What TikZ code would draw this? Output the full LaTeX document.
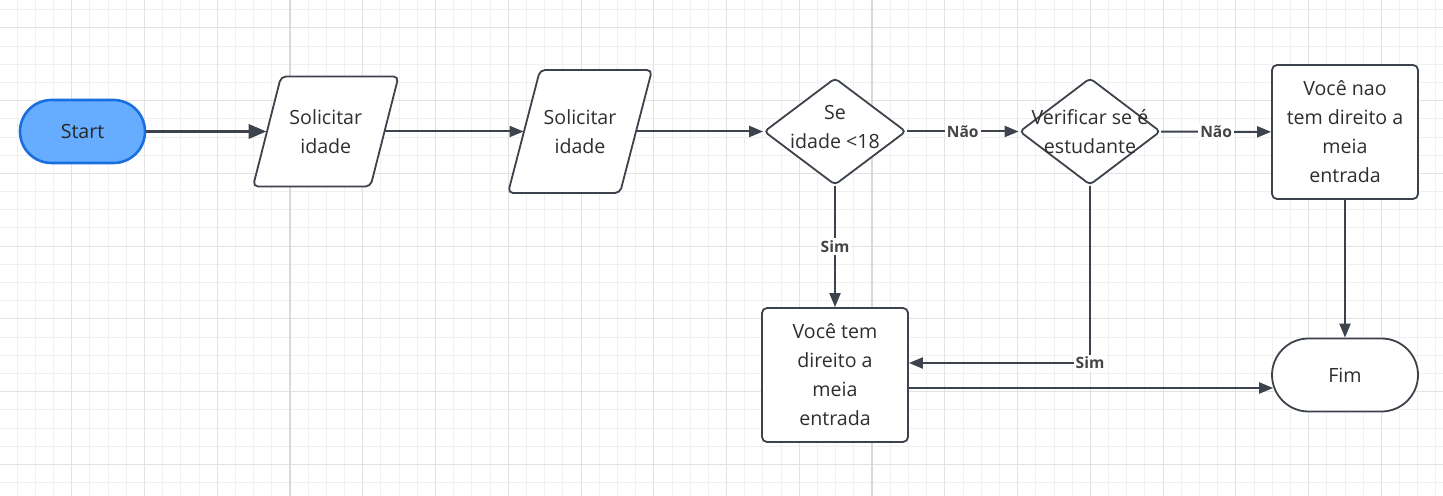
\documentclass[tikz,border=0pt]{standalone}
\usepackage{fontspec}
\setmainfont{Open Sans}
\usetikzlibrary{shapes.geometric,arrows.meta,calc}
\definecolor{edge}{HTML}{3D434C}
\definecolor{txt}{HTML}{2E2E2E}
\definecolor{lbltxt}{HTML}{454545}
\definecolor{startfill}{HTML}{66ADFF}
\definecolor{startline}{HTML}{1A6FE0}
\definecolor{gminor}{HTML}{F0F0F0}
\definecolor{gmed}{HTML}{E2E2E2}
\definecolor{gmaj}{HTML}{D9D9D9}
\begin{document}
\begin{tikzpicture}[x=0.5pt,y=-0.5pt,
  txtnode/.style={text=txt, font=\fontsize{9.8}{14.5}\selectfont, align=center, inner sep=0pt},
  outline/.style={draw=edge, line width=0.9pt, fill=white},
  box/.style={outline, txtnode, rounded corners=2.5pt, minimum width=73pt, minimum height=67pt},
  startnode/.style={txtnode, draw=startline, fill=startfill, line width=1.3pt, rounded corners=15.75pt, minimum width=62.5pt, minimum height=31.5pt},
  endnode/.style={outline, txtnode, rounded corners=18.25pt, minimum width=73pt, minimum height=36.5pt},
  diam/.style={outline, diamond, rounded corners=2pt, inner sep=0pt},
  iotext/.style={txtnode},
  conn/.style={draw=edge, line width=1pt, -{Triangle[length=7pt,width=5.5pt]}},
  thickconn/.style={draw=edge, line width=1.7pt, -{Triangle[length=9pt,width=7pt]}},
  lbl/.style={fill=white, text=lbltxt, font=\fontsize{7.8}{9}\selectfont\bfseries, inner sep=1pt}
]
\useasboundingbox (0,0) rectangle (1443,496);
\fill[white] (0,0) rectangle (1443,496);
% grid
\begin{scope}
\clip (0,0) rectangle (1443,496);
\foreach \k in {-16,...,63} {\pgfmathsetmacro\xx{290+18.19*\k}\draw[gminor,line width=0.5pt] (\xx,0) -- (\xx,496);}
\foreach \k in {-1,...,25} {\pgfmathsetmacro\yy{27.9+18.19*\k}\draw[gminor,line width=0.5pt] (0,\yy) -- (1443,\yy);}
\foreach \k in {-4,...,15} {\pgfmathsetmacro\xx{290+72.76*\k}\draw[gmed,line width=0.55pt] (\xx,0) -- (\xx,496);}
\foreach \k in {0,...,6} {\pgfmathsetmacro\yy{27.9+72.76*\k}\draw[gmed,line width=0.55pt] (0,\yy) -- (1443,\yy);}
\foreach \xx in {290,872} {\draw[gmaj,line width=1pt] (\xx,0) -- (\xx,496);}
\end{scope}

% shapes
\node[startnode, text=black!85] (start) at (82.5,131.5) {Start};

\draw[outline, rounded corners=2.5pt] (281,76.5) -- (398.5,76.5) -- (370.5,186.5) -- (253,186.5) -- cycle;
\node[iotext, minimum width=58.75pt, minimum height=55pt] (p1) at (325.75,131.5) {Solicitar\\idade};

\draw[outline, rounded corners=2.5pt] (540,70) -- (652,70) -- (620,193) -- (508,193) -- cycle;
\node[iotext, minimum width=56pt, minimum height=61.5pt] (p2) at (580,131.5) {Solicitar\\idade};

\node[diam, minimum width=71pt, minimum height=53.5pt] (d1) at (835,131.5) {};
\node[txtnode] (d1t) at (835,127) {Se\\idade <18};

\node[diam, minimum width=70.5pt, minimum height=53.5pt] (d2) at (1090,131.5) {};
\node[txtnode] (d2t) at (1090,131.5) {Verificar se é\\estudante};

\node[box] (vn) at (1345,132) {Você nao\\tem direito a\\meia\\entrada};
\node[box] (vt) at (835,375) {Você tem\\direito a\\meia\\entrada};
\node[endnode] (fim) at (1345,375) {Fim};

% connectors
\draw[thickconn] (start) -- (p1);
\draw[conn] (p1) -- (p2);
\draw[conn] (p2) -- (d1);
\draw[conn] (d1) -- node[lbl] (l1) {Não} (d2);
\draw[conn] (d2) -- node[lbl] (l2) {Não} (vn);
\draw[conn] (d1) -- node[lbl] (l3) {Sim} (vt);
\draw[conn] (d2.south) |- node[lbl, pos=0.5] (l4) {Sim} ([yshift=6pt]vt.east);
\draw[conn] ([yshift=-6.5pt]vt.east) -- ([yshift=-6.5pt,xshift=1pt]fim.west);
\draw[conn] (vn) -- (fim);
\end{tikzpicture}
\end{document}
